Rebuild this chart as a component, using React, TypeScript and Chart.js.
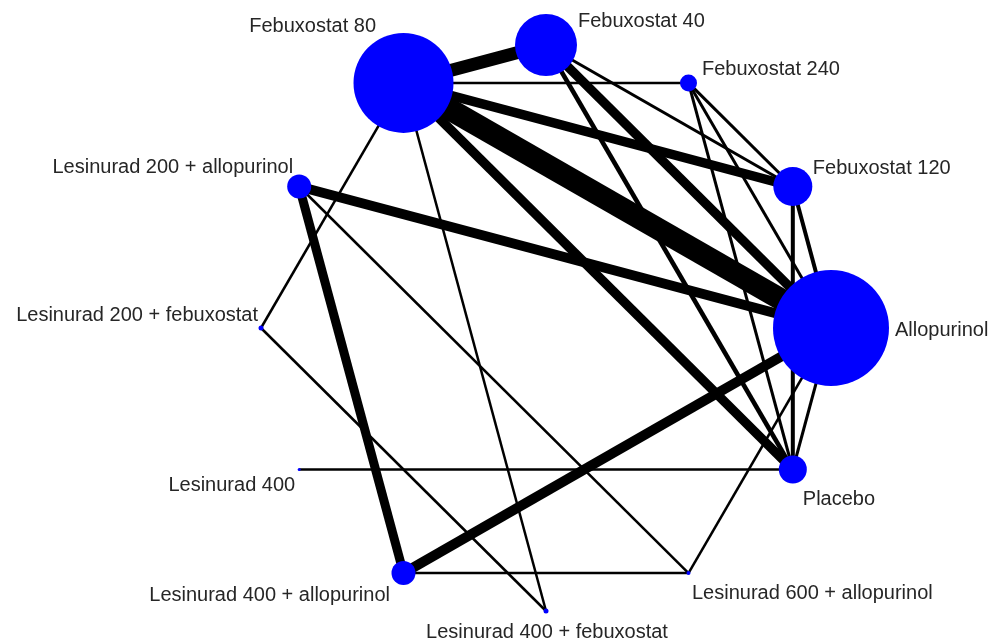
import React, { useEffect, useRef } from "react";
import { Chart, registerables } from "chart.js";

Chart.register(...registerables);

// Treatments, placed on a circle every 30 degrees (counter-clockwise from east)
const treatments = [
  "Allopurinol",
  "Febuxostat 120",
  "Febuxostat 240",
  "Febuxostat 40",
  "Febuxostat 80",
  "Lesinurad 200 + allopurinol",
  "Lesinurad 200 + febuxostat",
  "Lesinurad 400",
  "Lesinurad 400 + allopurinol",
  "Lesinurad 400 + febuxostat",
  "Lesinurad 600 + allopurinol",
  "Placebo",
];

// Relative node size (proportional to amount of evidence)
const nodeSize = [58, 19.5, 8.5, 31, 50, 12, 2.5, 1.5, 12, 2.5, 2, 14];

// Direct comparisons
const edgeFrom = [
  "Febuxostat 80", "Febuxostat 80", "Febuxostat 80", "Febuxostat 80", "Febuxostat 80", "Febuxostat 80", "Febuxostat 80",
  "Febuxostat 40", "Febuxostat 40", "Febuxostat 40",
  "Febuxostat 240", "Febuxostat 240", "Febuxostat 240",
  "Febuxostat 120", "Febuxostat 120",
  "Allopurinol", "Allopurinol", "Allopurinol", "Allopurinol",
  "Lesinurad 200 + allopurinol", "Lesinurad 200 + allopurinol",
  "Lesinurad 200 + febuxostat",
  "Lesinurad 400",
  "Lesinurad 400 + allopurinol",
];
const edgeTo = [
  "Febuxostat 40", "Febuxostat 240", "Febuxostat 120", "Allopurinol", "Placebo", "Lesinurad 200 + febuxostat", "Lesinurad 400 + febuxostat",
  "Febuxostat 120", "Allopurinol", "Placebo",
  "Febuxostat 120", "Allopurinol", "Placebo",
  "Allopurinol", "Placebo",
  "Placebo", "Lesinurad 200 + allopurinol", "Lesinurad 400 + allopurinol", "Lesinurad 600 + allopurinol",
  "Lesinurad 400 + allopurinol", "Lesinurad 600 + allopurinol",
  "Lesinurad 400 + febuxostat",
  "Placebo",
  "Lesinurad 600 + allopurinol",
];
// Edge weight (proportional to number of studies)
const edgeWeight = [
  13, 2.5, 9.5, 22, 9.5, 2.5, 2.5,
  3, 9.5, 4.5,
  3, 3, 3,
  4, 4,
  3, 10, 10, 2.5,
  9, 2.5,
  2.5,
  2.5,
  2.5,
];

// Label placement (pixel offsets from node centre, text alignment)
const labelDx = [64, 20, 13.5, 32, -27.5, -6, -3, -4, -13.5, 1, 3.5, 10];
const labelDy = [2, -18.5, -13, -24, -56, -19.5, -13, 15.5, 22, 21, 20, 29.5];
const labelAlign: CanvasTextAlign[] = [
  "left", "left", "left", "left", "right", "right", "right", "right", "right", "center", "left", "left",
];

const NODE_COLOR = "#0000FF";
const EDGE_COLOR = "#000000";

function nodePos(i: number) {
  const a = (i * 30 * Math.PI) / 180;
  return { x: Math.cos(a), y: Math.sin(a) };
}

export default function App() {
  const ref = useRef<HTMLCanvasElement | null>(null);

  useEffect(() => {
    if (!ref.current) return;
    const idx = (name: string) => treatments.indexOf(name);

    const edgeDatasets = edgeFrom.map((f, k) => ({
      type: "scatter" as const,
      label: f + " vs " + edgeTo[k],
      data: [nodePos(idx(f)), nodePos(idx(edgeTo[k]))],
      showLine: true,
      borderColor: EDGE_COLOR,
      borderWidth: edgeWeight[k],
      pointRadius: 0,
      pointHoverRadius: 0,
      order: 2,
      clip: false as any,
    }));

    const nodeDataset = {
      type: "scatter" as const,
      label: "treatments",
      data: treatments.map((_, i) => nodePos(i)),
      pointRadius: nodeSize,
      pointHoverRadius: nodeSize,
      backgroundColor: NODE_COLOR,
      borderColor: NODE_COLOR,
      borderWidth: 0,
      order: 1,
      clip: false as any,
    };

    const labelPlugin = {
      id: "nodeLabels",
      afterDatasetsDraw(chart: any) {
        const meta = chart.getDatasetMeta(0);
        const ctx = chart.ctx;
        ctx.save();
        ctx.font = '20px "Liberation Sans", Arial, sans-serif';
        ctx.fillStyle = "#262626";
        ctx.textBaseline = "middle";
        meta.data.forEach((pt: any, i: number) => {
          ctx.textAlign = labelAlign[i];
          ctx.fillText(treatments[i], pt.x + labelDx[i], pt.y + labelDy[i]);
        });
        ctx.restore();
      },
    };

    const rx = 285;
    const ry = 283;
    const cx = 546;
    const cy = 328;
    const W = 991;
    const H = 640;

    const chart = new Chart(ref.current, {
      type: "scatter",
      data: { datasets: [nodeDataset as any, ...(edgeDatasets as any)] },
      options: {
        animation: false,
        responsive: false,
        devicePixelRatio: 1,
        layout: { padding: 0, autoPadding: false } as any,
        plugins: {
          legend: { display: false },
          tooltip: { enabled: false },
        },
        events: [],
        scales: {
          x: {
            type: "linear",
            display: false,
            min: -cx / rx,
            max: (W - cx) / rx,
          },
          y: {
            type: "linear",
            display: false,
            min: -(H - cy) / ry,
            max: cy / ry,
          },
        },
      },
      plugins: [labelPlugin],
    });
    return () => chart.destroy();
  }, []);

  return (
    <div style={{ position: "absolute", left: 0, top: 0, width: 991, height: 640, background: "#fff" }}>
      <canvas ref={ref} width={991} height={640} />
    </div>
  );
}
